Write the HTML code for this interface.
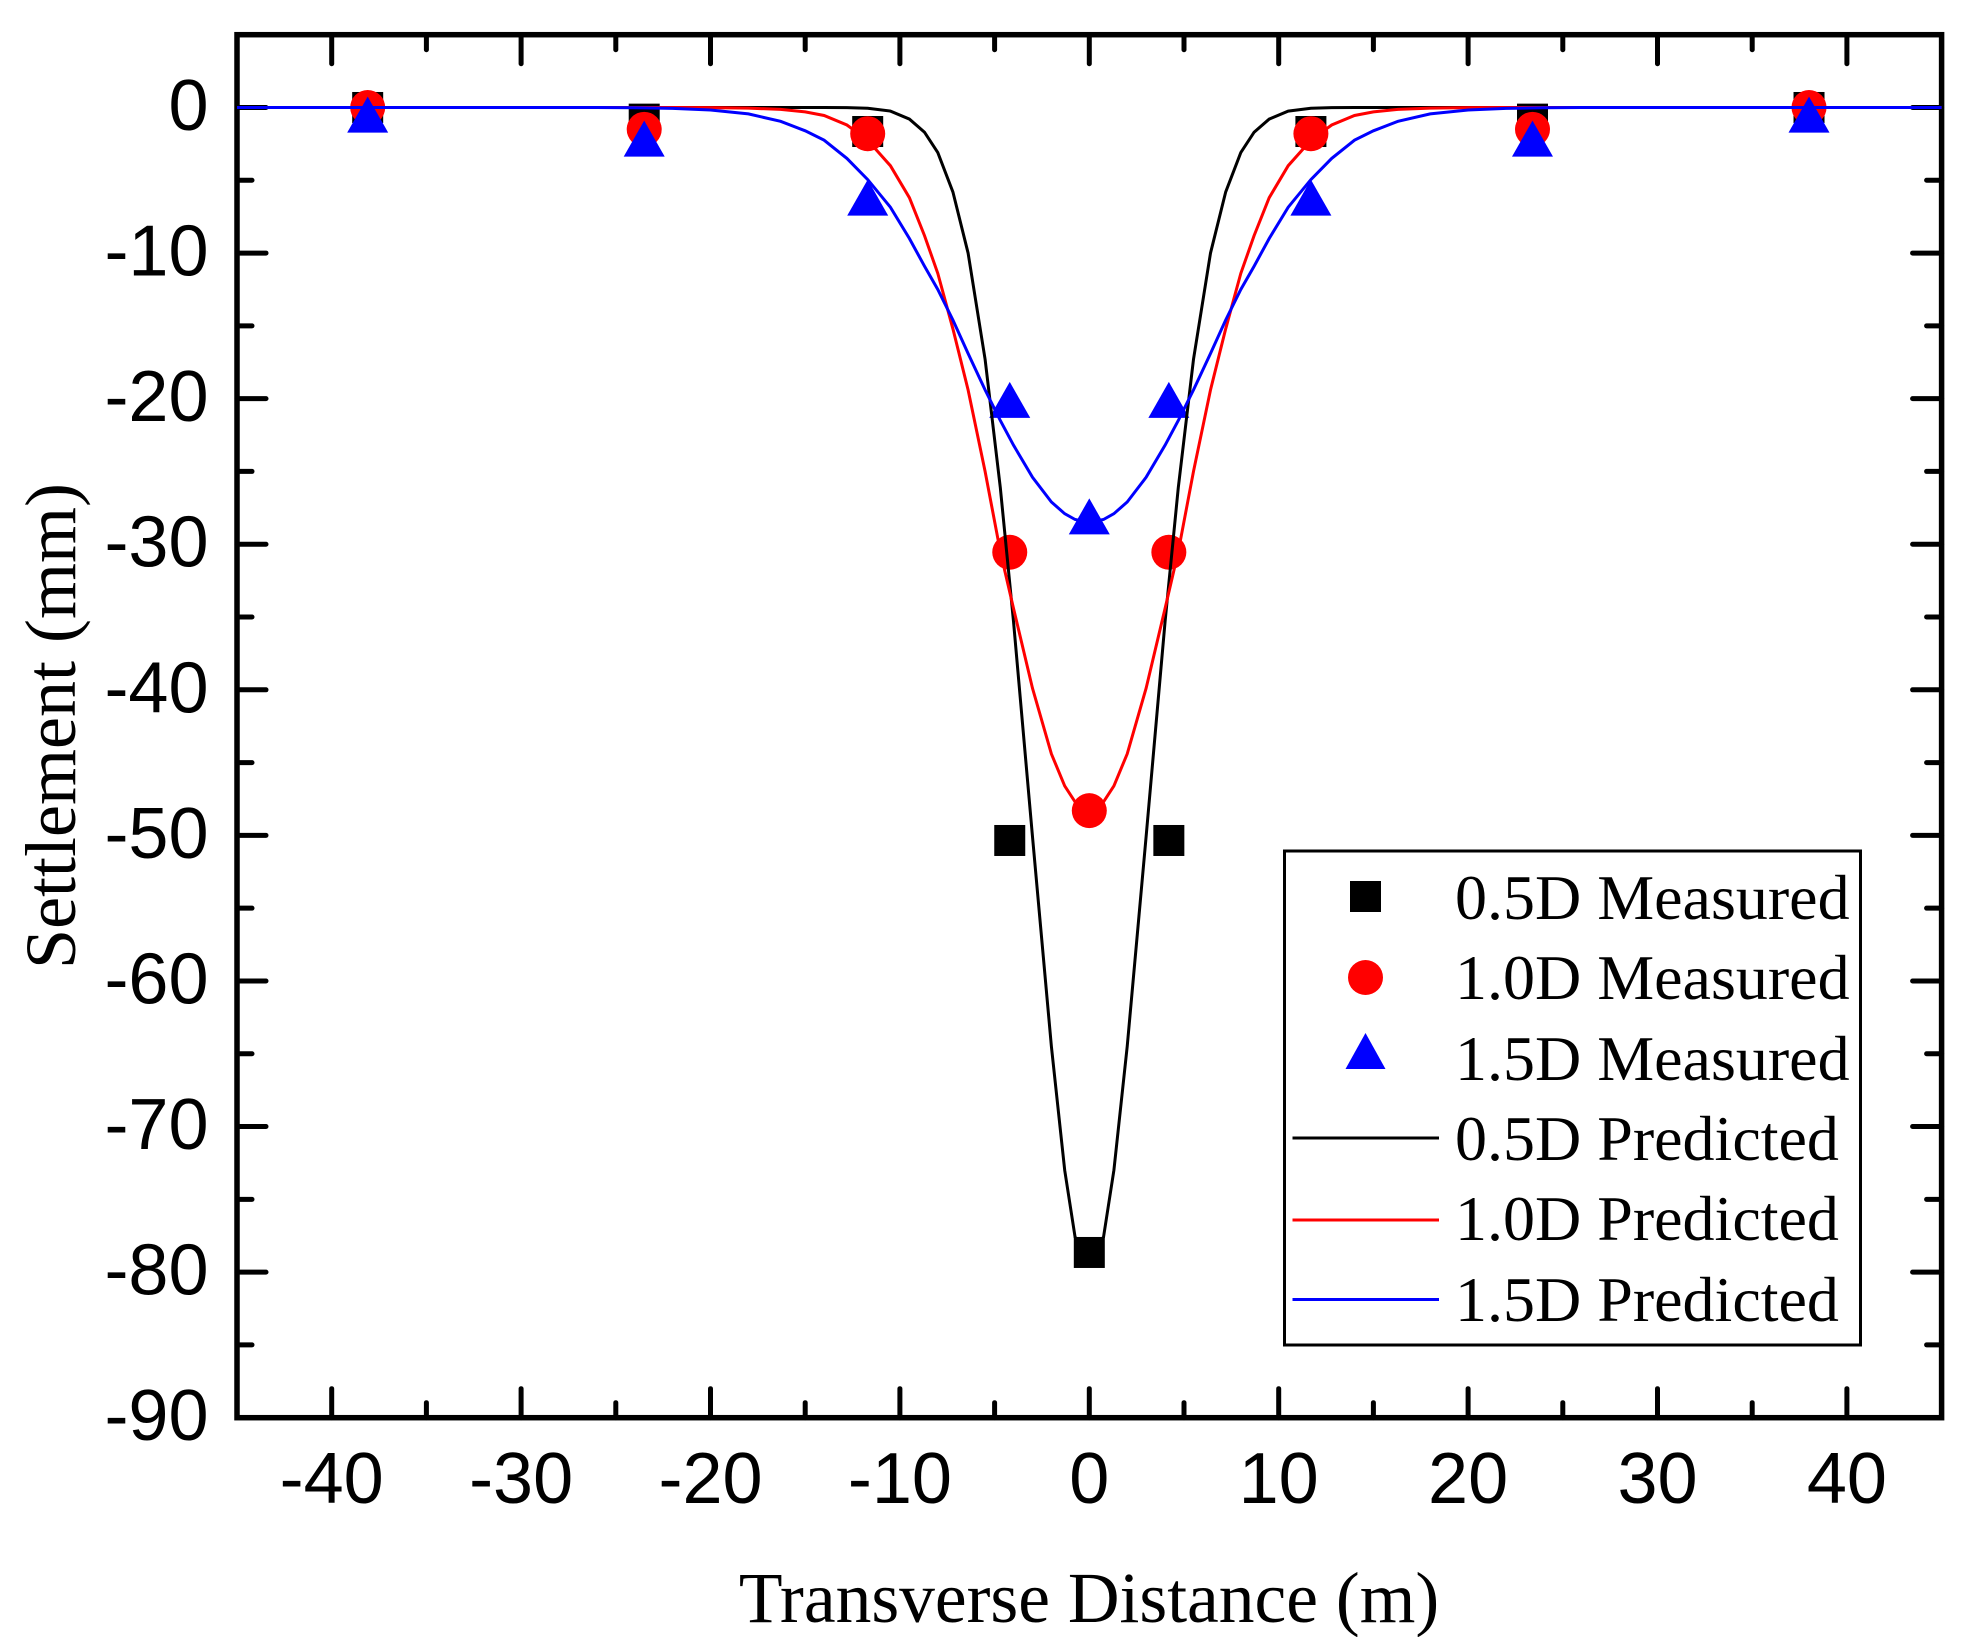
<!DOCTYPE html>
<html lang="en">
<head>
<meta charset="utf-8">
<title>Settlement vs Transverse Distance</title>
<style>
html,body{margin:0;padding:0;background:#fff;}
svg{display:block;}
.tick-label{font-family:"Liberation Sans",Arial,sans-serif;font-size:72px;fill:#000;}
.axis-title{font-family:"Liberation Serif","Times New Roman",serif;font-size:72px;fill:#000;}
.legend-text{font-family:"Liberation Serif","Times New Roman",serif;font-size:64px;fill:#000;}
</style>
</head>
<body>
<svg id="chart" xmlns="http://www.w3.org/2000/svg" width="1976" height="1637" viewBox="0 0 1976 1637">
  <rect x="0" y="0" width="1976" height="1637" fill="#fff"/>
  <g id="ticks"></g>
  <rect x="237" y="34.7" width="1704.6" height="1383" fill="none" stroke="#000" stroke-width="5.5"/>
  <g id="markers"></g>
  <g id="curves"></g>
  <g id="tick-labels"></g>
  <text class="axis-title" style="font-size:71.5px" x="1089" y="1622" text-anchor="middle">Transverse Distance (m)</text>
  <text class="axis-title" text-anchor="middle" transform="translate(75 726) rotate(-90)">Settlement (mm)</text>
  <g>
    <rect x="1284.5" y="851" width="576" height="494" fill="#fff" stroke="#000" stroke-width="3"/>
    <rect x="1350" y="881" width="31" height="31" fill="#000"/>
    <circle cx="1365.5" cy="977.5" r="17.5" fill="#f00"/>
    <polygon points="1365.5,1033 1385.5,1069 1345.5,1069" fill="#00f"/>
    <line x1="1292.5" x2="1439" y1="1138" y2="1138" stroke="#000" stroke-width="3"/>
    <line x1="1292.5" x2="1439" y1="1220" y2="1220" stroke="#f00" stroke-width="3"/>
    <line x1="1292.5" x2="1439" y1="1299.5" y2="1299.5" stroke="#00f" stroke-width="3"/>
    <text class="legend-text" x="1455" y="919">0.5D Measured</text>
    <text class="legend-text" x="1455" y="999">1.0D Measured</text>
    <text class="legend-text" x="1455" y="1080">1.5D Measured</text>
    <text class="legend-text" x="1455" y="1160">0.5D Predicted</text>
    <text class="legend-text" x="1455" y="1240">1.0D Predicted</text>
    <text class="legend-text" x="1455" y="1321">1.5D Predicted</text>
  </g>
</svg>
<script>
// Chart data
const xTickLabels = [-40,-30,-20,-10,0,10,20,30,40];
const yTickLabels = [0,-10,-20,-30,-40,-50,-60,-70,-80,-90];
const xMinorTicks = [-35,-25,-15,-5,5,15,25,35];
const yMinorTicks = [-5,-15,-25,-35,-45,-55,-65,-75,-85];

const measuredX = [-38.1,-23.5,-11.7,-4.2,0,4.2,11.7,23.4,38];
const measured05D = [0,-0.8,-1.65,-50.35,-78.65,-50.35,-1.65,-0.8,0];
const measured10D = [0,-1.5,-1.8,-30.55,-48.3,-30.55,-1.8,-1.5,0];
const measured15D = [-0.9,-2.55,-6.6,-20.5,-28.5,-20.5,-6.6,-2.55,-0.9];

const predictedX = [-45,-40,-35,-30,-26,-24,-22,-20,-18,-16.3,-15,-14,-12.8,-11.7,-10.5,-9.5,-8.7,-8,-7.2,-6.4,-5.5,-4.7,-4,-3,-2,-1.3,-0.75,0,0.75,1.3,2,3,4,4.7,5.5,6.4,7.2,8,8.7,9.5,10.5,11.7,12.8,14,15,16.3,18,20,22,24,26,30,35,40,45];
const predicted05D = [0,0,0,0,0,0,0,0,0,0,0,0,-0.01,-0.05,-0.25,-0.8,-1.7,-3.1,-5.8,-10,-17.3,-26.1,-35.3,-50.1,-64.5,-73,-77.6,-78.65,-77.6,-73,-64.5,-50.1,-35.3,-26.1,-17.3,-10,-5.8,-3.1,-1.7,-0.8,-0.25,-0.05,-0.01,0,0,0,0,0,0,0,0,0,0,0,0];
const predicted10D = [0,0,0,0,0,0,0,-0.01,-0.04,-0.13,-0.3,-0.55,-1.2,-2.25,-4,-6.2,-8.8,-11.4,-15.2,-19.4,-25,-30.5,-34.4,-39.9,-44.4,-46.6,-47.7,-48.3,-47.7,-46.6,-44.4,-39.9,-34.4,-30.5,-25,-19.4,-15.2,-11.4,-8.8,-6.2,-4,-2.25,-1.2,-0.55,-0.3,-0.13,-0.04,-0.01,0,0,0,0,0,0,0];
const predicted15D = [0,0,0,0,0,-0.02,-0.06,-0.17,-0.44,-0.95,-1.6,-2.25,-3.5,-4.95,-6.85,-9,-10.9,-12.5,-14.6,-16.9,-19.4,-21.5,-23.2,-25.4,-27.1,-27.9,-28.3,-28.5,-28.3,-27.9,-27.1,-25.4,-23.2,-21.5,-19.4,-16.9,-14.6,-12.5,-10.9,-9,-6.85,-4.95,-3.5,-2.25,-1.6,-0.95,-0.44,-0.17,-0.06,-0.02,0,0,0,0,0];

// Axis functions
const SVG_NS = 'http://www.w3.org/2000/svg';
function xScale(v){ return 237 + (v + 45) * (1704.6 / 90); }
function yScale(v){ return 34.7 + (5 - v) * (1383 / 95); }

function shape(parent, tag, attrs){
  const el = document.createElementNS(SVG_NS, tag);
  for (const k in attrs) el.setAttribute(k, attrs[k]);
  parent.appendChild(el);
  return el;
}

const ticksG = document.getElementById('ticks');
const labelsG = document.getElementById('tick-labels');
const TOP = yScale(5), BOTTOM = yScale(-90), LEFT = xScale(-45), RIGHT = xScale(45);
const tickStyle = {stroke:'#000','stroke-width':5,'stroke-linecap':'round'};

function xTick(v, len){
  const x = xScale(v);
  const b = shape(ticksG, 'line', Object.assign({x1:x, x2:x, y1:BOTTOM, y2:BOTTOM-len}, tickStyle));
  
  
  const t = shape(ticksG, 'line', Object.assign({x1:x, x2:x, y1:TOP, y2:TOP+len}, tickStyle));
  
  
}
function yTick(v, len){
  const y = yScale(v);
  const l = shape(ticksG, 'line', Object.assign({x1:LEFT, x2:LEFT+len, y1:y, y2:y}, tickStyle));
  
  
  const r = shape(ticksG, 'line', Object.assign({x1:RIGHT, x2:RIGHT-len, y1:y, y2:y}, tickStyle));
  
  
}
xTickLabels.forEach(function(v){
  xTick(v, 29);
  const t = shape(labelsG, 'text', {x:xScale(v), y:1503, 'text-anchor':'middle', 'class':'tick-label'});
  t.textContent = String(v);
  
  
});
xMinorTicks.forEach(function(v){ xTick(v, 15); });
yTickLabels.forEach(function(v){
  if (v !== -90) yTick(v, 29);
  const t = shape(labelsG, 'text', {x:208.5, y:yScale(v)+22.5, 'text-anchor':'end', 'class':'tick-label'});
  t.textContent = String(v);
  
  
});
yMinorTicks.forEach(function(v){ yTick(v, 15); });

// Measured markers
const markersG = document.getElementById('markers');
measuredX.forEach(function(x, i){
  const cx = xScale(x), cy = yScale(measured05D[i]);
  const s = shape(markersG, 'rect', {x:cx-15.5, y:cy-15.5, width:31, height:31, fill:'#000'});
  
  
});
measuredX.forEach(function(x, i){
  const cx = xScale(x), cy = yScale(measured10D[i]);
  const c = shape(markersG, 'circle', {cx:cx, cy:cy, r:17.5, fill:'#f00'});
  
  
});
measuredX.forEach(function(x, i){
  const cx = xScale(x), cy = yScale(measured15D[i]);
  const pts = cx + ',' + (cy-24) + ' ' + (cx+20.5) + ',' + (cy+12) + ' ' + (cx-20.5) + ',' + (cy+12);
  const p = shape(markersG, 'polygon', {points:pts, fill:'#00f'});
  
  
});

// Predicted curves
const curvesG = document.getElementById('curves');
function curvePoints(values){
  return predictedX.map(function(x, i){ return xScale(x).toFixed(1) + ',' + yScale(values[i]).toFixed(1); }).join(' ');
}
const curveBlack = shape(curvesG, 'polyline', {points:curvePoints(predicted05D), fill:'none', stroke:'#000', 'stroke-width':3});


const curveRed = shape(curvesG, 'polyline', {points:curvePoints(predicted10D), fill:'none', stroke:'#f00', 'stroke-width':3});


const curveBlue = shape(curvesG, 'polyline', {points:curvePoints(predicted15D), fill:'none', stroke:'#00f', 'stroke-width':3});


</script>
</body>
</html>
